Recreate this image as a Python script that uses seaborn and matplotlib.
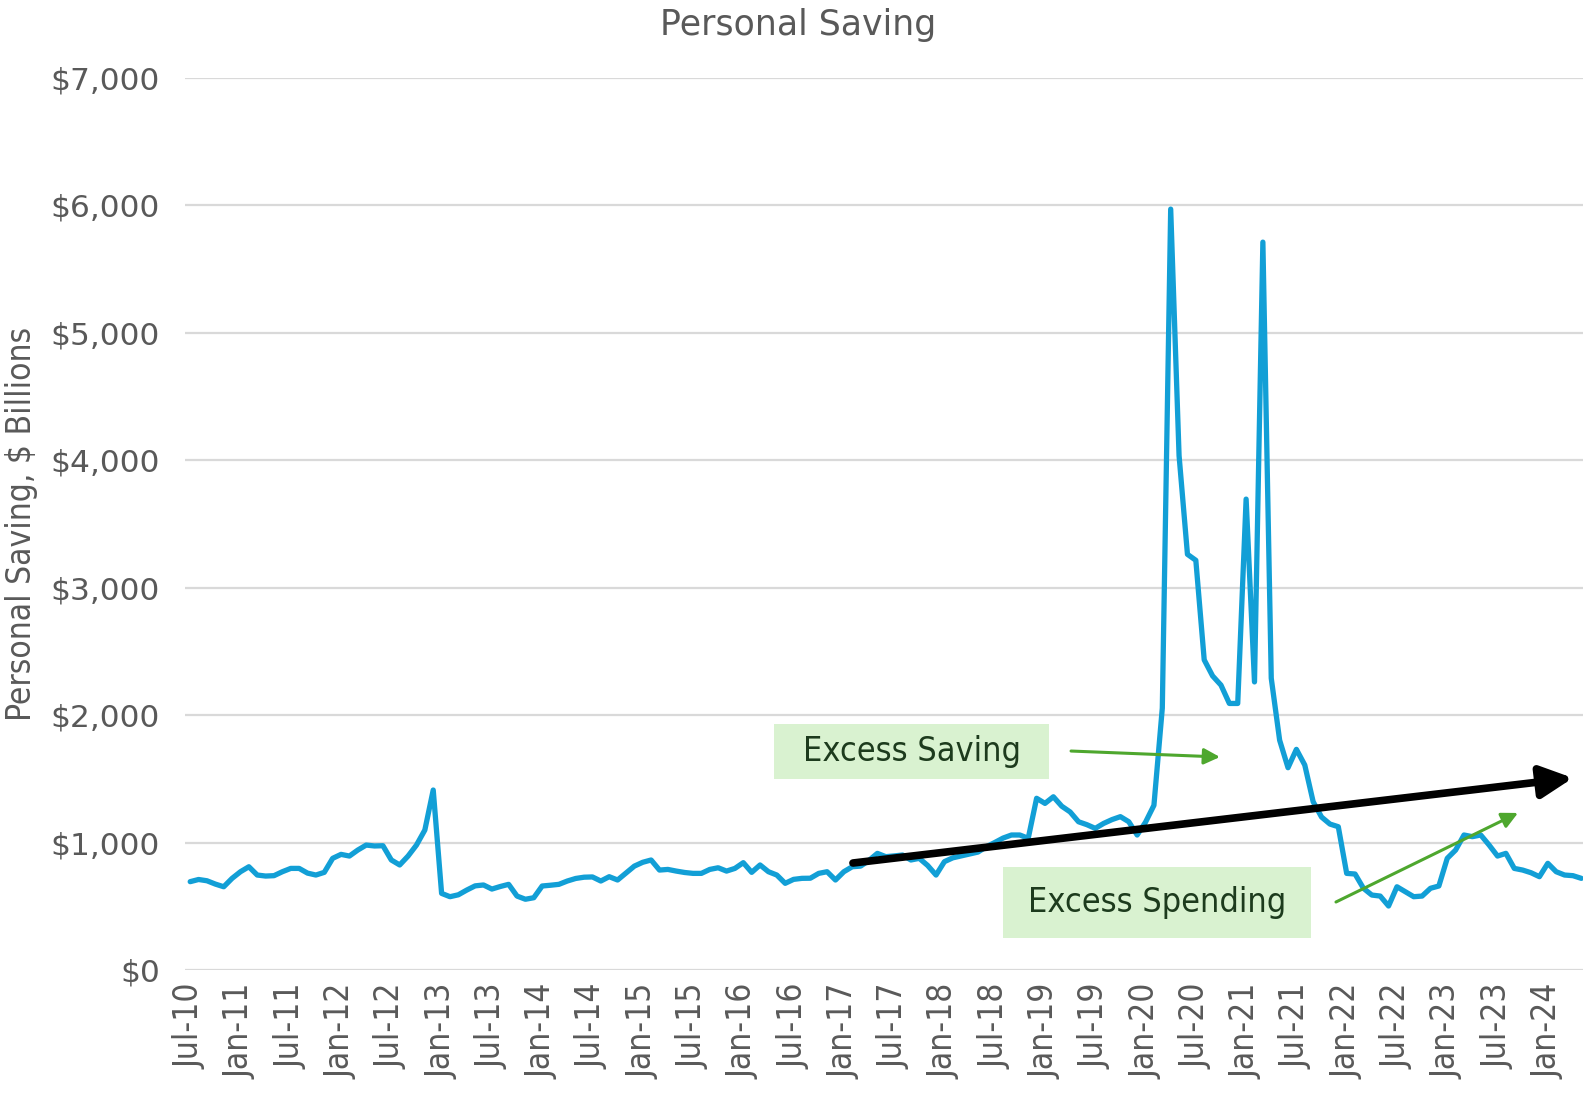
import matplotlib
matplotlib.use("Agg")
import matplotlib.pyplot as plt
import matplotlib.patches as mpatches
import seaborn as sns
import numpy as np
import pandas as pd

# monthly personal saving, $ billions, Jul-2010 .. May-2024
saving = [
    693, 710, 700, 674, 653, 719, 771, 810, 745, 737, 740, 771,
    797, 797, 760, 745, 766, 876, 907, 894, 941, 980, 973, 975,
    863, 824, 894, 980, 1098, 1412, 601, 575, 590, 627, 660, 667,
    635, 655, 672, 580, 555, 567, 659, 665, 672, 698, 718, 728,
    730, 698, 732, 706, 760, 815, 845, 863, 784, 789, 776, 765,
    758, 758, 789, 802, 776, 797, 842, 766, 824, 771, 745, 680,
    711, 719, 720, 758, 771, 706, 771, 810, 815, 860, 915, 889,
    895, 902, 863, 876, 820, 745, 850, 880, 895, 910, 925, 967,
    1000, 1035, 1059, 1059, 1033, 1347, 1307, 1359, 1285, 1240, 1163, 1140,
    1111, 1150, 1180, 1203, 1163, 1059, 1160, 1292, 2055, 5969, 4035, 3261,
    3214, 2433, 2307, 2235, 2091, 2091, 3694, 2260, 5710, 2289, 1803, 1587,
    1731, 1608, 1320, 1200, 1145, 1124, 758, 753, 641, 588, 580, 502,
    653, 614, 575, 580, 641, 659, 876, 941, 1059, 1046, 1059, 980,
    894, 915, 797, 784, 763, 732, 837, 771, 745, 740, 719,
]
months = pd.date_range("2010-07-01", periods=len(saving), freq="MS").strftime("%b-%y")
yticks = [0, 1000, 2000, 3000, 4000, 5000, 6000, 7000]

df = pd.DataFrame({"pos": np.arange(len(saving)), "month": months, "saving": saving})

sns.set_style("white")
plt.rcParams["font.family"] = ["DejaVu Sans"]
gray = "#595959"

fig = plt.figure(figsize=(15.83, 10.94), dpi=100)
ax = fig.add_axes([185 / 1583, 1 - 970 / 1094, 1398 / 1583, 892.3 / 1094])

for v in yticks:
    ax.axhline(v, color="#d9d9d9", lw=1.6, zorder=0)

sns.lineplot(data=df, x="pos", y="saving", ax=ax, color="#129fd6", lw=3.8, zorder=3)

ax.set_xlim(-0.62, len(saving) - 0.8)
ax.set_ylim(0, 7000)
ax.set_yticks(yticks)
ax.set_yticklabels([f"${v:,}" for v in yticks], fontsize=22.5, color=gray)
ax.set_xticks(df["pos"][::6])
ax.set_xticklabels(df["month"][::6], rotation=90, fontsize=24, color=gray,
                   fontstretch="condensed")
ax.tick_params(axis="y", length=0, pad=18)
ax.tick_params(axis="x", length=0, pad=10)
ax.set_xlabel("")
ax.set_ylabel("Personal Saving, $ Billions", fontsize=24, color=gray,
              fontstretch="condensed", va="center")
ax.yaxis.set_label_coords(-163 / 1398, 0.5)
sns.despine(ax=ax, left=True, bottom=True)

fig.text(798 / 1583, 1 - 25 / 1094, "Personal Saving", ha="center", va="center",
         fontsize=25, color=gray)

# annotation boxes
box_color = "#d9f2d0"
text_color = "#1d3b1d"
ax.add_patch(mpatches.Rectangle((0.4213, 0.2141), 0.1967, 0.0616, transform=ax.transAxes,
                                facecolor=box_color, edgecolor="none", zorder=1))
ax.text(0.5197, 0.2449, "Excess Saving", transform=ax.transAxes, ha="center", va="center",
        fontsize=24.5, color=text_color, fontstretch="condensed", zorder=2)
ax.add_patch(mpatches.Rectangle((0.5851, 0.0359), 0.2203, 0.0795, transform=ax.transAxes,
                                facecolor=box_color, edgecolor="none", zorder=1))
ax.text(0.6953, 0.0756, "Excess Spending", transform=ax.transAxes, ha="center", va="center",
        fontsize=24.5, color=text_color, fontstretch="condensed", zorder=2)

green = "#4ea72e"
ax.annotate("", xy=(0.7403, 0.2387), xytext=(0.6338, 0.2454), xycoords="axes fraction",
            arrowprops=dict(arrowstyle="-|>", lw=2.2, color=green, mutation_scale=24,
                            shrinkA=0, shrinkB=0), zorder=5)
ax.annotate("", xy=(0.9535, 0.1760), xytext=(0.8233, 0.0762), xycoords="axes fraction",
            arrowprops=dict(arrowstyle="-|>", lw=2.2, color=green, mutation_scale=24,
                            shrinkA=0, shrinkB=0), zorder=5)
ax.annotate("", xy=(0.9928, 0.2152), xytext=(0.4778, 0.1199), xycoords="axes fraction",
            arrowprops=dict(arrowstyle="-|>", lw=5.5, color="black", mutation_scale=48,
                            shrinkA=0, shrinkB=0), zorder=6)

plt.savefig("out.png", dpi=100)
